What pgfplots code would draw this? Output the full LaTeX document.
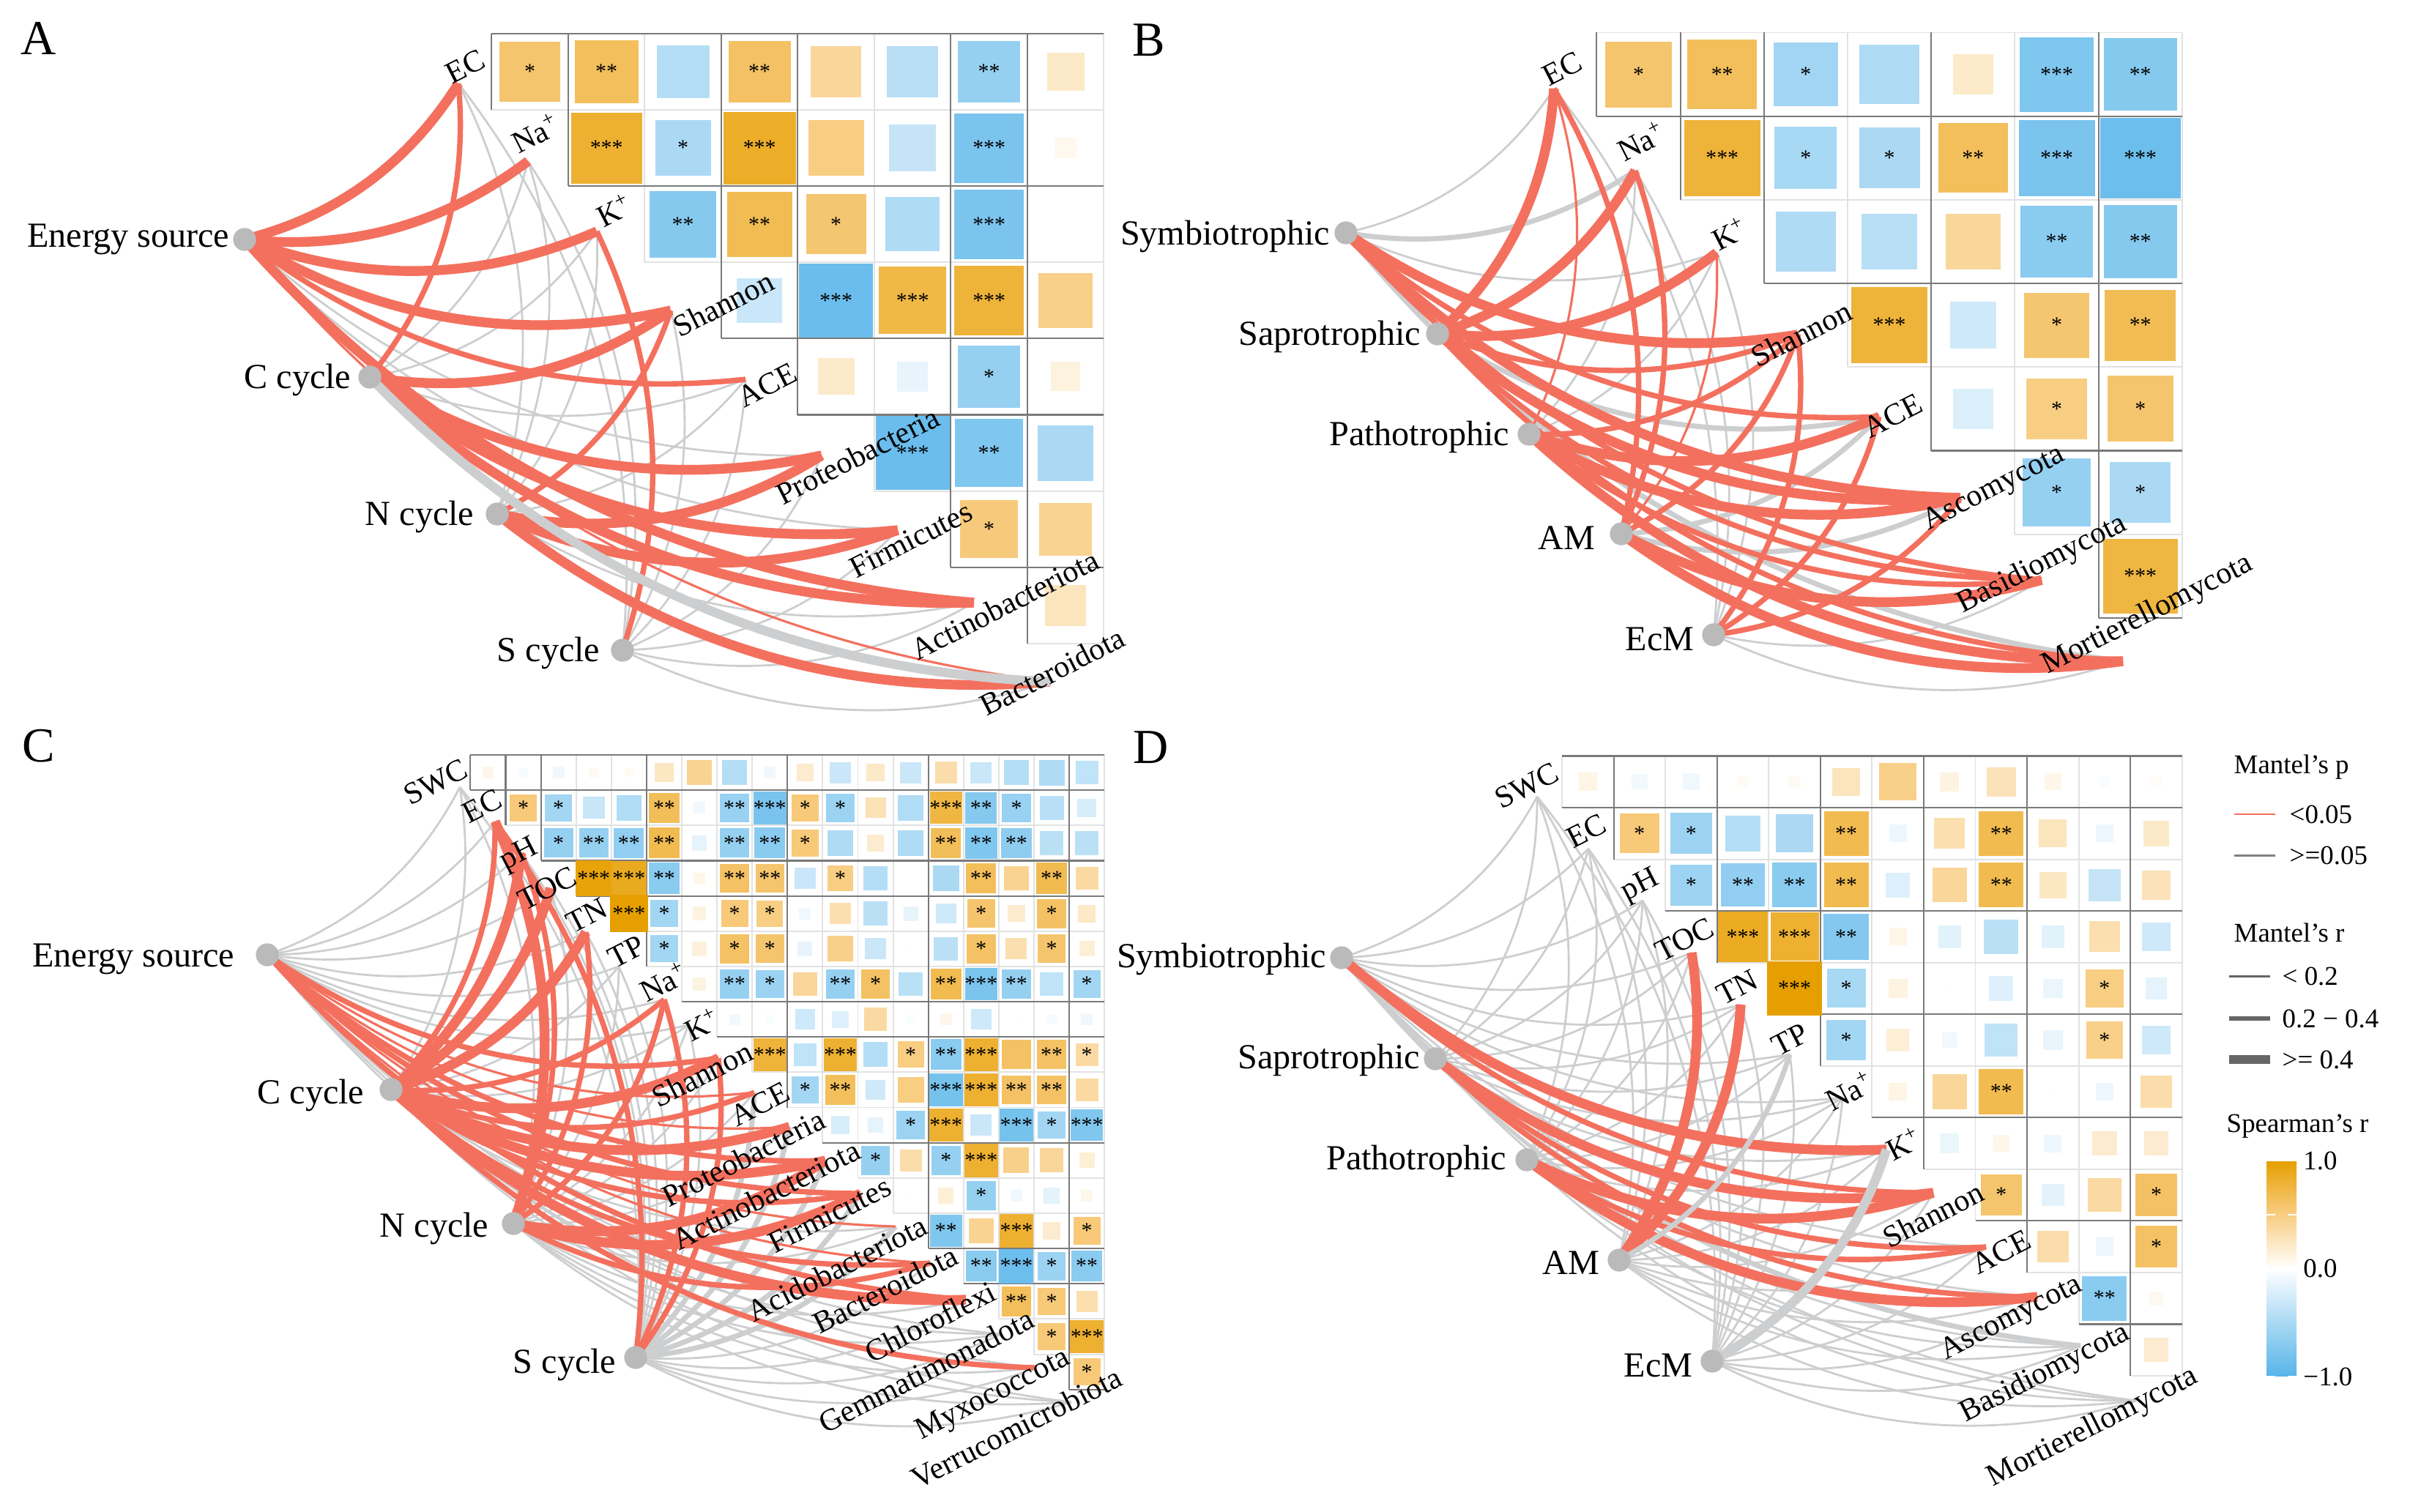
\documentclass[border=0pt]{standalone}
\usepackage{fontspec}
\setmainfont{Liberation Serif}
\usepackage{pgfplots}
\usepackage{pgfplotstable}
\pgfplotsset{compat=1.18}
\definecolor{lr}{HTML}{F4705E}
\definecolor{lg}{HTML}{CDCECF}
\definecolor{dgrid}{HTML}{7A7A7A}
\definecolor{lgrid}{HTML}{E2E2E2}
\newcommand\fN{\fontsize{13.7}{16}\selectfont}
\newcommand\fE{\fontsize{12}{14}\selectfont}
\newcommand\fP{\fontsize{19}{22}\selectfont}
\newcommand\fL{\fontsize{10.5}{12}\selectfont}
\newcommand\fS{\fontsize{8.5}{9}\selectfont}

% a link is start, a point halfway along it, end: drawn as one parabola
\makeatletter
\newcount\qlinkn
\newdimen\qlinkcx
\newdimen\qlinkcy
\def\qlinkpoint#1{%
  \pgf@process{#1}%
  \global\advance\qlinkn by 1
  \ifcase\qlinkn\or
    \xdef\qlax{\the\pgf@x}\xdef\qlay{\the\pgf@y}%
    \pgfpathmoveto{\pgfqpoint{\qlax}{\qlay}}%
  \or
    \xdef\qlmx{\the\pgf@x}\xdef\qlmy{\the\pgf@y}%
  \or
    \xdef\qlbx{\the\pgf@x}\xdef\qlby{\the\pgf@y}%
    \qlinkcx=\dimexpr 2\dimexpr\qlmx\relax-\dimexpr\qlax\relax/2-\dimexpr\qlbx\relax/2\relax
    \qlinkcy=\dimexpr 2\dimexpr\qlmy\relax-\dimexpr\qlay\relax/2-\dimexpr\qlby\relax/2\relax
    \pgfpathquadraticcurveto{\pgfqpoint{\qlinkcx}{\qlinkcy}}{\pgfqpoint{\qlbx}{\qlby}}%
  \fi}
\pgfdeclareplothandler{\pgfplothandlerqlink}{}{%
  start={\global\qlinkn 0\relax},
  point macro=\qlinkpoint}
\tikzset{qlink/.code={\let\tikz@plot@handler\pgfplothandlerqlink}}
\makeatother

% tiles: row, column, Spearman r, number of stars
\pgfplotstableread[row sep=\\]{
r c v s\\
0 0 .53 1\\ 0 1 .59 2\\ 0 2 -.40 0\\ 0 3 .56 2\\ 0 4 .37 0\\ 0 5 -.38 0\\ 0 6 -.56 2\\ 0 7 .20 0\\
1 1 .74 3\\ 1 2 -.45 1\\ 1 3 .77 3\\ 1 4 .45 0\\ 1 5 -.31 0\\ 1 6 -.71 3\\ 1 7 .06 0\\
2 2 -.65 2\\ 2 3 .62 2\\ 2 4 .52 1\\ 2 5 -.43 0\\ 2 6 -.71 3\\ 2 7 .002 0\\
3 3 -.29 0\\ 3 4 -.80 3\\ 3 5 .66 3\\ 3 6 .71 3\\ 3 7 .43 0\\
4 4 .19 0\\ 4 5 -.13 0\\ 4 6 -.56 1\\ 4 7 .12 0\\
5 5 -.80 3\\ 5 6 -.68 2\\ 5 7 -.45 0\\
6 6 .48 1\\ 6 7 .40 0\\
7 7 .24 0\\
}\tileA
\pgfplotstableread[row sep=\\]{
r c v s\\
0 0 .53 1\\ 0 1 .59 2\\ 0 2 -.50 1\\ 0 3 -.43 0\\ 0 4 .19 0\\ 0 5 -.68 3\\ 0 6 -.65 2\\
1 1 .71 3\\ 1 2 -.47 1\\ 1 3 -.45 1\\ 1 4 .59 2\\ 1 5 -.71 3\\ 1 6 -.79 3\\
2 2 -.43 0\\ 2 3 -.38 0\\ 2 4 .37 0\\ 2 5 -.63 2\\ 2 6 -.65 2\\
3 3 .71 3\\ 3 4 -.26 0\\ 3 5 .52 1\\ 3 6 .62 2\\
4 4 -.19 0\\ 4 5 .45 1\\ 4 6 .53 1\\
5 5 -.56 1\\ 5 6 -.45 1\\
6 6 .68 3\\
}\tileB
\pgfplotstableread[row sep=\\]{
r c v s\\
0 0 .08 0\\ 0 1 -.05 0\\ 0 2 -.08 0\\ 0 3 .05 0\\ 0 4 .04 0\\ 0 5 .22 0\\ 0 6 .40 0\\ 0 7 -.40 0\\ 0 8 -.08 0\\ 0 9 .18 0\\ 0 10 -.29 0\\ 0 11 .20 0\\ 0 12 -.29 0\\ 0 13 .31 0\\ 0 14 -.29 0\\ 0 15 -.40 0\\ 0 16 -.43 0\\ 0 17 -.34 0\\
1 1 .49 1\\ 1 2 -.49 1\\ 1 3 -.30 0\\ 1 4 -.42 0\\ 1 5 .60 2\\ 1 6 -.08 0\\ 1 7 -.55 2\\ 1 8 -.72 3\\ 1 9 .49 1\\ 1 10 -.53 1\\ 1 11 .27 0\\ 1 12 -.42 0\\ 1 13 .68 3\\ 1 14 -.65 2\\ 1 15 -.55 1\\ 1 16 -.38 0\\ 1 17 -.22 0\\
2 2 -.56 1\\ 2 3 -.56 2\\ 2 4 -.59 2\\ 2 5 .63 2\\ 2 6 -.14 0\\ 2 7 -.56 2\\ 2 8 -.63 2\\ 2 9 .49 1\\ 2 10 -.43 0\\ 2 11 .18 0\\ 2 12 -.43 0\\ 2 13 .60 2\\ 2 14 -.68 2\\ 2 15 -.60 2\\ 2 16 -.37 0\\ 2 17 -.37 0\\
3 3 .87 3\\ 3 4 .80 3\\ 3 5 -.63 2\\ 3 6 .08 0\\ 3 7 .56 2\\ 3 8 .53 2\\ 3 9 -.29 0\\ 3 10 .45 1\\ 3 11 -.40 0\\ 3 13 -.45 0\\ 3 14 .59 2\\ 3 15 .40 0\\ 3 16 .63 2\\ 3 17 .34 0\\
4 4 .95 3\\ 4 5 -.49 1\\ 4 6 .11 0\\ 4 7 .49 1\\ 4 8 .45 1\\ 4 9 -.08 0\\ 4 10 .29 0\\ 4 11 -.37 0\\ 4 12 -.13 0\\ 4 13 -.26 0\\ 4 14 .53 1\\ 4 15 .18 0\\ 4 16 .56 1\\ 4 17 .20 0\\
5 5 -.49 1\\ 5 6 .13 0\\ 5 7 .56 1\\ 5 8 .53 1\\ 5 9 -.13 0\\ 5 10 .43 0\\ 5 11 -.29 0\\ 5 12 -.01 0\\ 5 13 -.37 0\\ 5 14 .56 1\\ 5 15 .29 0\\ 5 16 .53 1\\ 5 17 .15 0\\
6 6 .11 0\\ 6 7 -.56 2\\ 6 8 -.53 1\\ 6 9 .37 0\\ 6 10 -.56 2\\ 6 11 .56 1\\ 6 12 -.37 0\\ 6 13 .63 2\\ 6 14 -.71 3\\ 6 15 -.56 2\\ 6 16 -.34 0\\ 6 17 -.49 1\\
7 7 -.07 0\\ 7 8 -.04 0\\ 7 9 -.26 0\\ 7 10 -.18 0\\ 7 11 .34 0\\ 7 12 -.04 0\\ 7 13 .08 0\\ 7 14 -.26 0\\ 7 15 -.01 0\\ 7 16 -.05 0\\ 7 17 -.08 0\\
8 8 .71 3\\ 8 9 -.34 0\\ 8 10 .74 3\\ 8 11 -.40 0\\ 8 12 .45 1\\ 8 13 -.63 2\\ 8 14 .74 3\\ 8 15 .56 0\\ 8 16 .56 2\\ 8 17 .34 1\\
9 9 -.49 1\\ 9 10 .59 2\\ 9 11 -.26 0\\ 9 12 .45 0\\ 9 13 -.74 3\\ 9 14 .74 3\\ 9 15 .56 2\\ 9 16 .56 2\\ 9 17 .34 0\\
10 10 -.22 0\\ 10 11 -.14 0\\ 10 12 -.53 1\\ 10 13 .74 3\\ 10 14 -.29 0\\ 10 15 -.74 3\\ 10 16 -.49 1\\ 10 17 -.68 3\\
11 11 -.56 1\\ 11 12 .31 0\\ 11 13 -.56 1\\ 11 14 .74 3\\ 11 15 .43 0\\ 11 16 .37 0\\ 11 17 .15 0\\
12 12 .01 0\\ 12 13 .15 0\\ 12 14 -.56 1\\ 12 15 -.08 0\\ 12 16 -.15 0\\ 12 17 .08 0\\
13 13 -.68 2\\ 13 14 .40 0\\ 13 15 .74 3\\ 13 16 .18 0\\ 13 17 .49 1\\
14 14 -.63 2\\ 14 15 -.79 3\\ 14 16 -.53 1\\ 14 17 -.63 2\\
15 15 .59 2\\ 15 16 .49 1\\ 15 17 .29 0\\
16 16 .49 1\\ 16 17 .74 3\\
17 17 .49 1\\
}\tileC
\pgfplotstableread[row sep=\\]{
r c v s\\
0 0 .095 0\\ 0 1 -.07 0\\ 0 2 -.08 0\\ 0 3 .04 0\\ 0 4 .04 0\\ 0 5 .24 0\\ 0 6 .43 0\\ 0 7 .11 0\\ 0 8 .26 0\\ 0 9 .08 0\\ 0 10 -.03 0\\ 0 11 .03 0\\
1 1 .49 1\\ 1 2 -.53 1\\ 1 3 -.40 0\\ 1 4 -.45 0\\ 1 5 .63 2\\ 1 6 -.09 0\\ 1 7 .29 0\\ 1 8 .63 2\\ 1 9 .24 0\\ 1 10 -.09 0\\ 1 11 .20 0\\
2 2 -.53 1\\ 2 3 -.59 2\\ 2 4 -.63 2\\ 2 5 .63 2\\ 2 6 -.18 0\\ 2 7 .37 0\\ 2 8 .63 2\\ 2 9 .22 0\\ 2 10 -.31 0\\ 2 11 .26 0\\
3 3 .79 3\\ 3 4 .74 3\\ 3 5 -.66 2\\ 3 6 .09 0\\ 3 7 -.16 0\\ 3 8 -.37 0\\ 3 9 -.16 0\\ 3 10 .29 0\\ 3 11 -.26 0\\
4 4 .95 3\\ 4 5 -.47 1\\ 4 6 .11 0\\ 4 7 .01 0\\ 4 8 -.18 0\\ 4 9 -.11 0\\ 4 10 .45 1\\ 4 11 -.14 0\\
5 5 -.49 1\\ 5 6 .15 0\\ 5 7 -.07 0\\ 5 8 -.34 0\\ 5 9 -.12 0\\ 5 10 .43 1\\ 5 11 -.26 0\\
6 6 .095 0\\ 6 7 .37 0\\ 6 8 .63 2\\ 6 9 .01 0\\ 6 10 -.095 0\\ 6 11 .31 0\\
7 7 -.11 0\\ 7 8 .08 0\\ 7 9 -.09 0\\ 7 10 .18 0\\ 7 11 .18 0\\
8 8 .53 1\\ 8 9 -.15 0\\ 8 10 .34 0\\ 8 11 .56 1\\
9 9 .31 0\\ 9 10 -.095 0\\ 9 11 .56 1\\
10 10 -.63 2\\ 10 11 .055 0\\
11 11 .18 0\\
}\tileD

\newcommand\tiles[6]{%
  \addplot[scatter,only marks,mark=square*,
    scatter/use mapped color={draw=mapped color,fill=mapped color},
    point meta={max(min(\thisrow{v}*1.1,1),-1)},
    visualization depends on={sqrt(abs(\thisrow{v}))*1.07*#6 \as \tsize},
    scatter/@pre marker code/.append style={/tikz/mark size=\tsize}]
    table[x expr={#2+(\thisrow{c}+.5)*#4},y expr={#3+(\thisrow{r}+.5)*#5}]{#1};
  \addplot[only marks,mark=none,
    point meta=\thisrow{v},
    visualization depends on={\thisrow{s} \as \tstar},
    nodes near coords={\ifdim\tstar pt>2.5pt ***\else\ifdim\tstar pt>1.5pt **\else\ifdim\tstar pt>.5pt *\fi\fi\fi},
    nodes near coords align=center,
    every node near coord/.append style={font=\fS,inner sep=0pt,text=black}]
    table[x expr={#2+(\thisrow{c}+.5)*#4},y expr={#3+(\thisrow{r}+.5)*#5}]{#1};}

% grid lines: x0 y0 dx dy n, then the vertical and horizontal lines drawn dark
\newcommand\onev[6]{%
  \pgfmathsetmacro\xa{#1+#6*#3}\pgfmathsetmacro\ya{#2}%
  \pgfmathsetmacro\yb{#2+min(#6+1,#5)*#4}%
  \edef\tmp{\noexpand\addplot[\gridstyle] coordinates {(\xa,\ya) (\xa,\yb)};}\tmp}
\newcommand\oneh[6]{%
  \pgfmathsetmacro\xa{#1+max(#6-1,0)*#3}\pgfmathsetmacro\xb{#1+#5*#3}%
  \pgfmathsetmacro\ya{#2+#6*#4}%
  \edef\tmp{\noexpand\addplot[\gridstyle] coordinates {(\xa,\ya) (\xb,\ya)};}\tmp}
\newcommand\panelgrid[7]{%
  \def\gridstyle{lgrid,line width=.55pt}%
  \pgfplotsinvokeforeach{0,...,#5}{\onev{#1}{#2}{#3}{#4}{#5}{##1}\oneh{#1}{#2}{#3}{#4}{#5}{##1}}%
  \def\gridstyle{dgrid,line width=.6pt}%
  \pgfplotsinvokeforeach{#6}{\onev{#1}{#2}{#3}{#4}{#5}{##1}}%
  \pgfplotsinvokeforeach{#7}{\oneh{#1}{#2}{#3}{#4}{#5}{##1}}}

\pgfplotsset{
  page axis/.style={
    at={(0,0)},anchor=south west,scale only axis,
    width=32.91cm,height=20.64cm,
    xmin=0,xmax=3291,ymin=0,ymax=2064,y dir=reverse,
    hide axis,clip=false},
  gt/.style={lg,line width=.8pt,qlink},
  gm/.style={lg,line width=2pt,qlink},
  gk/.style={lg,line width=3.6pt,qlink},
  rt/.style={lr,line width=.9pt,qlink},
  rm/.style={lr,line width=2.1pt,qlink},
  rk/.style={lr,line width=3.8pt,qlink},
}

\begin{document}
\begin{tikzpicture}
\useasboundingbox (0,0) rectangle (32.91cm,20.64cm);
\begin{axis}[
  page axis,
  colormap={spr}{rgb255=(86,180,233) rgb255=(170,217,244) rgb255=(255,255,255) rgb255=(248,205,130) rgb255=(230,159,0)},
  point meta min=-1,point meta max=1,
  colorbar,
  colorbar style={
    at={(parent axis.south west)},anchor=south west,xshift=30.65cm,yshift=1.84cm,
    width=.41cm,height=2.95cm,
    ytick={-1,0,.5,1},yticklabels={−1.0,0.0,,1.0},
    yticklabel pos=right,ytick pos=both,tick align=inside,
    major tick style={white,line width=.5pt},major tick length=.12cm,
    axis line style={draw=none},
    yticklabel style={font=\fL,xshift=-.03cm},
  },
]
% ---------- grids and tiles
\panelgrid{671.4}{46}{104.5}{104.1}{8}{0,1,3,4,6,7}{0,2,4,5,7}
\tiles{\tileA}{671.4}{46}{104.5}{104.1}{14.8}
\panelgrid{2180.4}{44.5}{114.2}{114.2}{7}{0,1,2,4,6}{1,3,5,7}
\tiles{\tileB}{2180.4}{44.5}{114.2}{114.2}{16.2}
\panelgrid{642.4}{1031}{48.1}{48.15}{18}{0,1,2,5,9,13,17}{0,1,3,4,7,8,11,14,15,18}
\tiles{\tileC}{642.4}{1031}{48.1}{48.15}{6.82}
\panelgrid{2133}{1032.5}{70.56}{70.54}{12}{1,3,5,7,9,11}{0,1,3,5,7,9,11}
\tiles{\tileD}{2133}{1032.5}{70.56}{70.54}{10}
\end{axis}

\begin{axis}[page axis]
% ---------- panel A links
\addplot[gt] coordinates {(334,327)(698,553)(1122,622)};
\addplot[gt] coordinates {(334,327)(740,615)(1226,724)};
\addplot[gt] coordinates {(505,515)(643,389)(721,220)};
\addplot[gt] coordinates {(505,515)(680,447)(815,316)};
\addplot[gt] coordinates {(505,515)(761,568)(1018,518)};
\addplot[gt] coordinates {(679,702)(711,403)(626,114)};
\addplot[gt] coordinates {(679,702)(748,457)(721,220)};
\addplot[gt] coordinates {(679,702)(786,523)(815,316)};
\addplot[gt] coordinates {(679,702)(867,644)(1018,518)};
\addplot[gt] coordinates {(679,702)(992,828)(1330,823)};
\addplot[gt] coordinates {(850,888)(815,479)(626,114)};
\addplot[gt] coordinates {(850,888)(852,541)(721,220)};
\addplot[gt] coordinates {(850,888)(929,663)(916,424)};
\addplot[gt] coordinates {(850,888)(971,720)(1018,518)};
\addplot[gt] coordinates {(850,888)(1013,782)(1122,622)};
\addplot[gt] coordinates {(850,888)(1054,844)(1226,724)};
\addplot[gt] coordinates {(850,888)(1097,904)(1330,823)};
\addplot[gt] coordinates {(850,888)(1138,968)(1434,931)};
\addplot[rk] coordinates {(334,327)(501,250)(626,114)};
\addplot[rk] coordinates {(334,327)(538,312)(721,220)};
\addplot[rk] coordinates {(334,327)(576,370)(815,316)};
\addplot[rk] coordinates {(334,327)(615,434)(916,424)};
\addplot[rm] coordinates {(334,327)(657,491)(1018,518)};
\addplot[rk] coordinates {(334,327)(782,675)(1330,823)};
\addplot[rt] coordinates {(334,327)(824,739)(1434,931)};
\addplot[rm] coordinates {(505,515)(606,327)(626,114)};
\addplot[rk] coordinates {(505,515)(720,511)(916,424)};
\addplot[rk] coordinates {(505,515)(803,630)(1122,622)};
\addplot[rk] coordinates {(505,515)(845,692)(1226,724)};
\addplot[rk] coordinates {(505,515)(887,752)(1330,823)};
\addplot[rm] coordinates {(679,702)(825,587)(916,424)};
\addplot[rk] coordinates {(679,702)(909,706)(1122,622)};
\addplot[rk] coordinates {(679,702)(950,768)(1226,724)};
\addplot[rk] coordinates {(679,702)(1034,892)(1434,931)};
\addplot[rm] coordinates {(850,888)(890,599)(815,316)};
\addplot[gk] coordinates {(505,515)(928,816)(1434,931)};

% ---------- panel B links
\addplot[gt] coordinates {(1838,318)(2000,248)(2122,121)};
\addplot[gm] coordinates {(1838,318)(2044,315)(2233,233)};
\addplot[gt] coordinates {(1838,318)(2088,382)(2344,345)};
\addplot[gm] coordinates {(1838,318)(2310,717)(2899,903)};
\addplot[gm] coordinates {(1963,456)(2253,573)(2566,569)};
\addplot[gt] coordinates {(2088,593)(2197,428)(2233,233)};
\addplot[gt] coordinates {(2088,593)(2241,495)(2344,345)};
\addplot[gm] coordinates {(2214,729)(2406,684)(2566,569)};
\addplot[gm] coordinates {(2214,729)(2450,751)(2677,680)};
\addplot[gt] coordinates {(2340,867)(2306,472)(2122,121)};
\addplot[gt] coordinates {(2340,867)(2350,539)(2233,233)};
\addplot[gt] coordinates {(2340,867)(2394,606)(2344,345)};
\addplot[gt] coordinates {(2340,867)(2572,874)(2788,792)};
\addplot[gt] coordinates {(2340,867)(2616,941)(2899,903)};
\addplot[rk] coordinates {(1838,318)(2133,449)(2455,457)};
\addplot[rm] coordinates {(1838,318)(2177,516)(2566,569)};
\addplot[rk] coordinates {(1838,318)(2221,583)(2677,680)};
\addplot[rm] coordinates {(1838,318)(2266,650)(2788,792)};
\addplot[rk] coordinates {(1963,456)(2076,304)(2122,121)};
\addplot[rk] coordinates {(1963,456)(2120,372)(2233,233)};
\addplot[rk] coordinates {(1963,456)(2165,439)(2344,345)};
\addplot[rm] coordinates {(1963,456)(2209,506)(2455,457)};
\addplot[rk] coordinates {(1963,456)(2298,639)(2677,680)};
\addplot[rm] coordinates {(1963,456)(2342,707)(2788,792)};
\addplot[rm] coordinates {(1963,456)(2386,773)(2899,903)};
\addplot[rt] coordinates {(2088,593)(2152,360)(2122,121)};
\addplot[rm] coordinates {(2088,593)(2285,562)(2455,457)};
\addplot[rk] coordinates {(2088,593)(2329,629)(2566,569)};
\addplot[rk] coordinates {(2088,593)(2374,695)(2677,680)};
\addplot[rm] coordinates {(2088,593)(2418,763)(2788,792)};
\addplot[rk] coordinates {(2088,593)(2462,829)(2899,903)};
\addplot[rm] coordinates {(2214,729)(2229,416)(2122,121)};
\addplot[rm] coordinates {(2214,729)(2273,483)(2233,233)};
\addplot[rt] coordinates {(2214,729)(2317,550)(2344,345)};
\addplot[rm] coordinates {(2214,729)(2362,617)(2455,457)};
\addplot[rk] coordinates {(2214,729)(2495,818)(2788,792)};
\addplot[rk] coordinates {(2214,729)(2539,885)(2899,903)};
\addplot[rm] coordinates {(2340,867)(2439,674)(2455,457)};
\addplot[rm] coordinates {(2340,867)(2483,741)(2566,569)};
\addplot[rm] coordinates {(2340,867)(2527,807)(2677,680)};

% ---------- panel C links
\addplot[gt] coordinates {(365,1304)(519,1216)(628,1075)};
\addplot[gt] coordinates {(365,1304)(539,1244)(676,1122)};
\addplot[gt] coordinates {(365,1304)(552,1269)(712,1165)};
\addplot[gt] coordinates {(365,1304)(568,1297)(752,1213)};
\addplot[gt] coordinates {(365,1304)(586,1332)(800,1273)};
\addplot[gt] coordinates {(365,1304)(603,1360)(845,1320)};
\addplot[gt] coordinates {(365,1304)(630,1389)(907,1365)};
\addplot[gt] coordinates {(365,1304)(643,1410)(940,1400)};
\addplot[gt] coordinates {(365,1304)(814,1663)(1367,1822)};
\addplot[gt] coordinates {(365,1304)(834,1691)(1415,1868)};
\addplot[gt] coordinates {(365,1304)(853,1719)(1463,1915)};
\addplot[gt] coordinates {(534,1488)(622,1291)(628,1075)};
\addplot[gt] coordinates {(534,1488)(706,1435)(845,1320)};
\addplot[gt] coordinates {(534,1488)(746,1485)(940,1400)};
\addplot[gt] coordinates {(534,1488)(860,1650)(1223,1675)};
\addplot[gt] coordinates {(534,1488)(917,1738)(1367,1822)};
\addplot[gt] coordinates {(534,1488)(956,1794)(1463,1915)};
\addplot[gt] coordinates {(701,1671)(724,1366)(628,1075)};
\addplot[gt] coordinates {(701,1671)(772,1447)(752,1213)};
\addplot[gt] coordinates {(701,1671)(808,1510)(845,1320)};
\addplot[gt] coordinates {(701,1671)(848,1559)(940,1400)};
\addplot[gt] coordinates {(701,1671)(864,1586)(981,1445)};
\addplot[gt] coordinates {(701,1671)(883,1614)(1030,1492)};
\addplot[gt] coordinates {(701,1671)(903,1643)(1078,1539)};
\addplot[gt] coordinates {(701,1671)(962,1725)(1223,1675)};
\addplot[gt] coordinates {(701,1671)(1000,1785)(1319,1775)};
\addplot[gt] coordinates {(701,1671)(1019,1813)(1367,1822)};
\addplot[gt] coordinates {(701,1671)(1038,1841)(1415,1868)};
\addplot[gt] coordinates {(701,1671)(1058,1869)(1463,1915)};
\addplot[gt] coordinates {(868,1854)(826,1441)(628,1075)};
\addplot[gt] coordinates {(868,1854)(859,1494)(712,1165)};
\addplot[gt] coordinates {(868,1854)(874,1522)(752,1213)};
\addplot[gt] coordinates {(868,1854)(892,1557)(800,1273)};
\addplot[gt] coordinates {(868,1854)(910,1585)(845,1320)};
\addplot[gt] coordinates {(868,1854)(949,1634)(940,1400)};
\addplot[gm] coordinates {(868,1854)(985,1689)(1030,1492)};
\addplot[gm] coordinates {(868,1854)(1005,1718)(1078,1539)};
\addplot[gm] coordinates {(868,1854)(1024,1745)(1127,1585)};
\addplot[gm] coordinates {(868,1854)(1044,1773)(1175,1630)};
\addplot[gm] coordinates {(868,1854)(1063,1800)(1223,1675)};
\addplot[gt] coordinates {(868,1854)(1082,1830)(1270,1725)};
\addplot[gt] coordinates {(868,1854)(1101,1860)(1319,1775)};
\addplot[gt] coordinates {(868,1854)(1121,1888)(1367,1822)};
\addplot[gt] coordinates {(868,1854)(1140,1916)(1415,1868)};
\addplot[gt] coordinates {(868,1854)(1159,1944)(1463,1915)};
\addplot[rm] coordinates {(365,1304)(659,1436)(981,1445)};
\addplot[rt] coordinates {(365,1304)(679,1465)(1030,1492)};
\addplot[rt] coordinates {(365,1304)(698,1493)(1078,1539)};
\addplot[rm] coordinates {(365,1304)(718,1521)(1127,1585)};
\addplot[rm] coordinates {(365,1304)(737,1548)(1175,1630)};
\addplot[rt] coordinates {(365,1304)(757,1575)(1223,1675)};
\addplot[rt] coordinates {(365,1304)(775,1605)(1270,1725)};
\addplot[rm] coordinates {(365,1304)(795,1635)(1319,1775)};
\addplot[rm] coordinates {(534,1488)(642,1319)(676,1122)};
\addplot[rk] coordinates {(534,1488)(655,1344)(712,1165)};
\addplot[rk] coordinates {(534,1488)(671,1372)(752,1213)};
\addplot[rk] coordinates {(534,1488)(689,1407)(800,1273)};
\addplot[rm] coordinates {(534,1488)(733,1464)(907,1365)};
\addplot[rk] coordinates {(534,1488)(762,1511)(981,1445)};
\addplot[rm] coordinates {(534,1488)(782,1540)(1030,1492)};
\addplot[rk] coordinates {(534,1488)(801,1568)(1078,1539)};
\addplot[rk] coordinates {(534,1488)(821,1596)(1127,1585)};
\addplot[rm] coordinates {(534,1488)(840,1623)(1175,1630)};
\addplot[rm] coordinates {(534,1488)(878,1680)(1270,1725)};
\addplot[rk] coordinates {(534,1488)(898,1710)(1319,1775)};
\addplot[rm] coordinates {(534,1488)(937,1766)(1415,1868)};
\addplot[rk] coordinates {(701,1671)(743,1394)(676,1122)};
\addplot[rm] coordinates {(701,1671)(757,1419)(712,1165)};
\addplot[rm] coordinates {(701,1671)(790,1482)(800,1273)};
\addplot[rm] coordinates {(701,1671)(835,1539)(907,1365)};
\addplot[rk] coordinates {(701,1671)(923,1671)(1127,1585)};
\addplot[rk] coordinates {(701,1671)(942,1698)(1175,1630)};
\addplot[rm] coordinates {(701,1671)(980,1755)(1270,1725)};
\addplot[rm] coordinates {(868,1854)(845,1469)(676,1122)};
\addplot[rm] coordinates {(868,1854)(936,1613)(907,1365)};
\addplot[rm] coordinates {(868,1854)(965,1661)(981,1445)};

% ---------- panel D links
\addplot[gt] coordinates {(1832,1308)(1988,1225)(2099,1088)};
\addplot[gt] coordinates {(1832,1308)(2015,1267)(2169,1159)};
\addplot[gt] coordinates {(1832,1308)(2045,1310)(2243,1230)};
\addplot[gt] coordinates {(1832,1308)(2072,1352)(2310,1301)};
\addplot[gt] coordinates {(1832,1308)(2098,1395)(2377,1372)};
\addplot[gt] coordinates {(1832,1308)(2125,1435)(2444,1440)};
\addplot[gt] coordinates {(1832,1308)(2155,1472)(2516,1499)};
\addplot[gt] coordinates {(1832,1308)(2232,1594)(2712,1703)};
\addplot[gt] coordinates {(1832,1308)(2261,1635)(2782,1771)};
\addplot[gm] coordinates {(1832,1308)(2284,1674)(2841,1838)};
\addplot[gt] coordinates {(1832,1308)(2314,1719)(2917,1913)};
\addplot[gt] coordinates {(1960,1446)(2065,1281)(2099,1088)};
\addplot[gt] coordinates {(1960,1446)(2093,1323)(2169,1159)};
\addplot[gt] coordinates {(1960,1446)(2123,1366)(2243,1230)};
\addplot[gt] coordinates {(1960,1446)(2150,1409)(2310,1301)};
\addplot[gt] coordinates {(1960,1446)(2176,1451)(2377,1372)};
\addplot[gt] coordinates {(1960,1446)(2203,1491)(2444,1440)};
\addplot[gt] coordinates {(1960,1446)(2233,1528)(2516,1499)};
\addplot[gt] coordinates {(1960,1446)(2256,1570)(2576,1570)};
\addplot[gt] coordinates {(1960,1446)(2361,1730)(2841,1838)};
\addplot[gt] coordinates {(1960,1446)(2392,1775)(2917,1913)};
\addplot[gt] coordinates {(2085,1584)(2142,1337)(2099,1088)};
\addplot[gt] coordinates {(2085,1584)(2170,1380)(2169,1159)};
\addplot[gt] coordinates {(2085,1584)(2199,1423)(2243,1230)};
\addplot[gt] coordinates {(2085,1584)(2226,1465)(2310,1301)};
\addplot[gt] coordinates {(2085,1584)(2252,1507)(2377,1372)};
\addplot[gt] coordinates {(2085,1584)(2279,1548)(2444,1440)};
\addplot[gt] coordinates {(2085,1584)(2309,1585)(2516,1499)};
\addplot[gt] coordinates {(2085,1584)(2332,1626)(2576,1570)};
\addplot[gt] coordinates {(2085,1584)(2438,1787)(2841,1838)};
\addplot[gt] coordinates {(2085,1584)(2468,1832)(2917,1913)};
\addplot[gt] coordinates {(2211,1721)(2218,1393)(2099,1088)};
\addplot[gt] coordinates {(2211,1721)(2246,1436)(2169,1159)};
\addplot[gt] coordinates {(2211,1721)(2276,1479)(2243,1230)};
\addplot[gt] coordinates {(2211,1721)(2386,1641)(2516,1499)};
\addplot[gt] coordinates {(2211,1721)(2409,1682)(2576,1570)};
\addplot[gt] coordinates {(2211,1721)(2435,1718)(2640,1629)};
\addplot[gt] coordinates {(2211,1721)(2463,1762)(2712,1703)};
\addplot[gt] coordinates {(2211,1721)(2492,1803)(2782,1771)};
\addplot[gt] coordinates {(2211,1721)(2514,1843)(2841,1838)};
\addplot[gt] coordinates {(2211,1721)(2545,1888)(2917,1913)};
\addplot[gt] coordinates {(2338,1859)(2296,1450)(2099,1088)};
\addplot[gt] coordinates {(2338,1859)(2324,1492)(2169,1159)};
\addplot[gt] coordinates {(2338,1859)(2353,1535)(2243,1230)};
\addplot[gt] coordinates {(2338,1859)(2380,1577)(2310,1301)};
\addplot[gt] coordinates {(2338,1859)(2406,1619)(2377,1372)};
\addplot[gt] coordinates {(2338,1859)(2433,1660)(2444,1440)};
\addplot[gt] coordinates {(2338,1859)(2463,1697)(2516,1499)};
\addplot[gt] coordinates {(2338,1859)(2512,1774)(2640,1629)};
\addplot[gt] coordinates {(2338,1859)(2541,1818)(2712,1703)};
\addplot[gt] coordinates {(2338,1859)(2569,1859)(2782,1771)};
\addplot[gt] coordinates {(2338,1859)(2592,1899)(2841,1838)};
\addplot[gt] coordinates {(2338,1859)(2622,1944)(2917,1913)};
\addplot[rk] coordinates {(1832,1308)(2178,1513)(2576,1570)};
\addplot[rm] coordinates {(1832,1308)(2204,1549)(2640,1629)};
\addplot[rk] coordinates {(1960,1446)(2282,1606)(2640,1629)};
\addplot[rm] coordinates {(1960,1446)(2310,1650)(2712,1703)};
\addplot[rm] coordinates {(1960,1446)(2339,1691)(2782,1771)};
\addplot[rk] coordinates {(2085,1584)(2358,1662)(2640,1629)};
\addplot[rm] coordinates {(2085,1584)(2387,1706)(2712,1703)};
\addplot[rk] coordinates {(2085,1584)(2415,1747)(2782,1771)};
\addplot[rk] coordinates {(2211,1721)(2303,1521)(2310,1301)};
\addplot[rk] coordinates {(2211,1721)(2329,1563)(2377,1372)};
\addplot[gm] coordinates {(2211,1721)(2356,1604)(2444,1440)};
\addplot[gk] coordinates {(2338,1859)(2486,1738)(2576,1570)};

% ---------- dots
\addplot[only marks,mark=*,mark size=4.25pt,mark options={fill=black!27,draw=black!27}] coordinates {
  (334,327)(505,515)(679,702)(850,888)
  (1838,318)(1963,456)(2088,593)(2214,729)(2340,867)
  (365,1304)(534,1488)(701,1671)(868,1854)
  (1832,1308)(1960,1446)(2085,1584)(2211,1721)(2338,1859)};

% ---------- legend samples
\addplot[lr,line width=.8pt] coordinates {(3051,1112)(3107,1112)};
\addplot[black!50,line width=.8pt] coordinates {(3051,1168.5)(3107,1168.5)};
\addplot[black!60,line width=.85pt] coordinates {(3044,1333)(3100,1333)};
\addplot[black!60,line width=1.7pt] coordinates {(3044,1391)(3100,1391)};
\addplot[black!60,line width=3.6pt] coordinates {(3044,1447)(3100,1447)};

% ---------- texts
\node[font=\fP,anchor=west,inner sep=0pt] at (28,52) {A};
\node[font=\fP,anchor=west,inner sep=0pt] at (1546,55) {B};
\node[font=\fP,anchor=west,inner sep=0pt] at (30,1019) {C};
\node[font=\fP,anchor=west,inner sep=0pt] at (1547,1021) {D};
\tikzset{txs/.style={font=\fN,anchor=east,inner sep=0pt},txe/.style={font=\fE,rotate=27,inner sep=0pt},txl/.style={font=\fL,anchor=west,inner sep=0pt}}
\node[txs] at (314,327) {Energy source};
\node[txs] at (480,519) {C cycle};
\node[txs] at (648,706) {N cycle};
\node[txs] at (820,892) {S cycle};
\node[txe] at (635,91) {EC};
\node[txe] at (731,182) {Na\textsuperscript{+}};
\node[txe] at (839,287) {K\textsuperscript{+}};
\node[txe] at (988,415) {Shannon};
\node[txe] at (1048,526) {ACE};
\node[txe] at (1171,622) {Proteobacteria};
\node[txe] at (1244,737) {Firmicutes};
\node[txe] at (1372,826) {Actinobacteriota};
\node[txe] at (1437,917) {Bacteroidota};
\node[txs] at (1817,323) {Symbiotrophic};
\node[txs] at (1941,460) {Saprotrophic};
\node[txs] at (2062,597) {Pathotrophic};
\node[txs] at (2179,735) {AM};
\node[txs] at (2314,873) {EcM};
\node[txe] at (2133,94) {EC};
\node[txe] at (2241,193) {Na\textsuperscript{+}};
\node[txe] at (2362,319) {K\textsuperscript{+}};
\node[txe] at (2460,456) {Shannon};
\node[txe] at (2585,568) {ACE};
\node[txe] at (2723,668) {Ascomycota};
\node[txe] at (2789,771) {Basidiomycota};
\node[txe] at (2933,840) {Mortierellomycota};
\node[txs] at (321,1310) {Energy source};
\node[txs] at (498,1496) {C cycle};
\node[txs] at (668,1678) {N cycle};
\node[txs] at (842,1864) {S cycle};
\node[txe] at (595,1068) {SWC};
\node[txe] at (658,1101) {EC};
\node[txe] at (709,1168) {pH};
\node[txe] at (747,1213) {TOC};
\node[txe] at (801,1250) {TN};
\node[txe] at (855,1300) {TP};
\node[txe] at (906,1341) {Na\textsuperscript{+}};
\node[txe] at (959,1399) {K\textsuperscript{+}};
\node[txe] at (959,1467) {Shannon};
\node[txe] at (1038,1508) {ACE};
\node[txe] at (1015,1581) {Proteobacteria};
\node[txe] at (1046,1632) {Actinobacteriota};
\node[txe] at (1133,1659) {Firmicutes};
\node[txe] at (1143,1732) {Acidobacteriota};
\node[txe] at (1209,1761) {Bacteroidota};
\node[txe] at (1270,1805) {Chloroflexi};
\node[txe] at (1265,1872) {Gemmatimonadota};
\node[txe] at (1357,1906) {Myxococcota};
\node[txe] at (1388,1950) {Verrucomicrobiota};
\node[txs] at (1812,1310) {Symbiotrophic};
\node[txs] at (1940,1448) {Saprotrophic};
\node[txs] at (2058,1586) {Pathotrophic};
\node[txs] at (2185,1725) {AM};
\node[txs] at (2312,1865) {EcM};
\node[txe] at (2085,1073) {SWC};
\node[txe] at (2166,1135) {EC};
\node[txe] at (2240,1210) {pH};
\node[txe] at (2300,1283) {TOC};
\node[txe] at (2372,1348) {TN};
\node[txe] at (2444,1420) {TP};
\node[txe] at (2525,1490) {Na\textsuperscript{+}};
\node[txe] at (2600,1562) {K\textsuperscript{+}};
\node[txe] at (2640,1659) {Shannon};
\node[txe] at (2733,1710) {ACE};
\node[txe] at (2747,1801) {Ascomycota};
\node[txe] at (2793,1876) {Basidiomycota};
\node[txe] at (2858,1950) {Mortierellomycota};
\node[txl] at (3050,1048) {Mantel's p};
\node[txl] at (3126,1112) {<0.05};
\node[txl] at (3126,1168) {>=0.05};
\node[txl] at (3050,1274) {Mantel's r};
\node[txl] at (3116,1333) {< 0.2};
\node[txl] at (3116,1391) {0.2 − 0.4};
\node[txl] at (3116,1447) {>= 0.4};
\node[txl] at (3040,1538) {Spearman's r};
\end{axis}
\end{tikzpicture}
\end{document}
